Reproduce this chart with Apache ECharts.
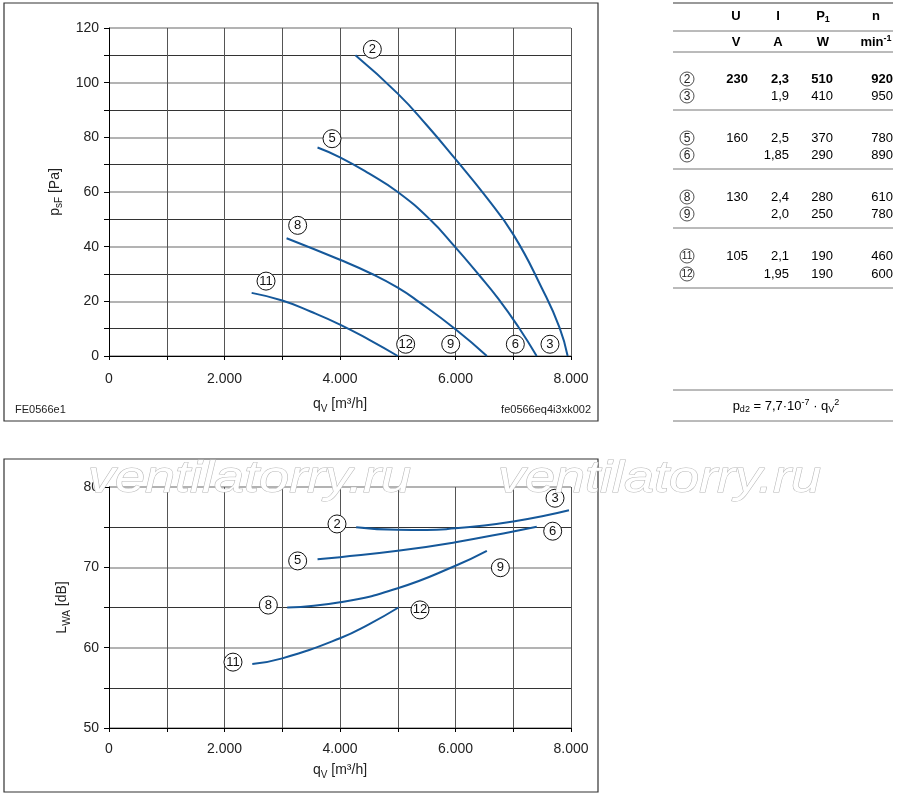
<!DOCTYPE html>
<html>
<head>
<meta charset="utf-8">
<script src="https://cdn.jsdelivr.net/npm/echarts@6/dist/echarts.min.js"></script>
<style>
html,body{margin:0;padding:0;background:#fff;}
#c{width:900px;height:797px;}
</style>
</head>
<body>
<div id="c"></div>
<script>
// ---------- DATA ----------
// pressure curves (qV [m3/h], psF [Pa])
const qP2 = [4267, 5000, 5500, 6000, 6500, 7000, 7500, 7800, 7942];
const pP2 = [110, 96, 84.5, 72, 59, 44.5, 24.6, 10.5, 0];
const qP5 = [3611, 4000, 4500, 5000, 5555, 5988, 6393, 6740, 7087, 7405];
const pP5 = [76.3, 72.7, 66.8, 60, 50, 40, 30, 21, 10.7, 0];
const qP8 = [3075, 4000, 4555, 5000, 5353, 6000, 6543];
const pP8 = [43.1, 35.2, 30, 25, 20, 9.8, 0];
const qP11 = [2470, 3000, 3500, 4000, 4500, 5000];
const pP11 = [23.1, 20.3, 16.2, 11.5, 6.0, 0];
// sound curves (qV, LWA [dB])
const qL2 = [4279, 5000, 5500, 6000, 6500, 7000, 7500, 7965];
const lL2 = [75.0, 74.67, 74.65, 74.85, 75.2, 75.7, 76.35, 77.1];
const qL5 = [3611, 4000, 5000, 6000, 7000, 7407];
const lL5 = [71.0, 71.26, 72.05, 73.13, 74.46, 75.04];
const qL8 = [3086, 4000, 5000, 6000, 6543];
const lL8 = [65.0, 65.65, 67.4, 70.2, 72.05];
const qL11 = [2481, 3000, 4000, 4500, 5012];
const lL11 = [57.97, 58.67, 61.17, 62.9, 65.0];
// curve marker labels
const markP = ['2','5','8','11','12','9','6','3'];
const markPq = [4560, 3862, 3267, 2719, 5137, 5917, 7036, 7636];
const markPv = [112.2, 79.5, 47.8, 27.4, 4.3, 4.3, 4.3, 4.3];
const markL = ['3','2','6','5','9','8','12','11'];
const markLq = [7723, 3948, 7683, 3267, 6777, 2759, 5385, 2147];
const markLv = [78.6, 75.4, 74.5, 70.8, 69.95, 65.3, 64.7, 58.2];
// axis ticks
const xTicks = [0, 2000, 4000, 6000, 8000];
const xTickLabels = ['0', '2.000', '4.000', '6.000', '8.000'];
// table
const tblHead = ['U', 'I', 'P1', 'n'];
const tblUnit = ['V', 'A', 'W', 'min-1'];
const tblRows = ['2','3','5','6','8','9','11','12'];
const tblU = ['230','','160','','130','','105',''];
const tblI = ['2,3','1,9','2,5','1,85','2,4','2,0','2,1','1,95'];
const tblP = ['510','410','370','290','280','250','190','190'];
const tblN = ['920','950','780','890','610','780','460','600'];

// ---------- CHART ----------
const FONT = '"Liberation Sans", Arial, sans-serif';
const BLUE = '#15589a';
const zip = (a, b) => a.map((v, i) => [v, b[i]]);
const chart = echarts.init(document.getElementById('c'), null, {renderer: 'canvas'});

const richName = {
  m: {fontSize: 14, color: '#222', fontFamily: FONT, lineHeight: 20},
  s: {fontSize: 10, color: '#222', fontFamily: FONT, lineHeight: 10, verticalAlign: 'bottom'},
  u: {fontSize: 10, color: '#222', fontFamily: FONT, lineHeight: 10, verticalAlign: 'top'}
};
const xFmt = v => { const i = xTicks.indexOf(v); return i >= 0 ? xTickLabels[i] : ''; };
const gridLine = {show: true, lineStyle: {color: '#555', width: 1}};

function xAxis(gi, gap, margin) {
  return {
    type: 'value', gridIndex: gi, min: 0, max: 8000, interval: 2000,
    name: '{m|q}{s|V}{m| [m³/h]}', nameLocation: 'middle', nameGap: gap,
    nameTextStyle: {rich: richName},
    axisLine: {show: true, onZero: false, lineStyle: {color: '#000', width: 1}},
    axisTick: {show: true, length: 4, lineStyle: {color: '#000'}},
    minorTick: {show: true, splitNumber: 2, length: 4, lineStyle: {color: '#000'}},
    splitLine: gridLine,
    minorSplitLine: gridLine,
    axisLabel: {formatter: xFmt, fontSize: 14, color: '#222', fontFamily: FONT, margin: margin}
  };
}
function yAxis(gi, min, max, name, gap) {
  return {
    type: 'value', gridIndex: gi, min: min, max: max, interval: 10 * (gi === 0 ? 2 : 1),
    name: name, nameLocation: 'middle', nameGap: gap,
    nameTextStyle: {rich: richName},
    axisLine: {show: true, lineStyle: {color: '#000', width: 1}},
    axisTick: {show: true, length: 5, lineStyle: {color: '#000'}},
    minorTick: {show: true, splitNumber: 2, length: 5, lineStyle: {color: '#000'}},
    splitLine: {show: true, lineStyle: {color: '#9a9a9a', width: 1.5}},
    minorSplitLine: {show: true, lineStyle: {color: '#333', width: 1}},
    axisLabel: {fontSize: 14, color: '#222', fontFamily: FONT, margin: 10}
  };
}
function curve(gi, q, v) {
  return {type: 'line', xAxisIndex: gi, yAxisIndex: gi, data: zip(q, v), smooth: 0.5,
    showSymbol: false, symbol: 'none', lineStyle: {color: BLUE, width: 2}, z: 3, silent: true};
}
function marks(gi, names, q, v) {
  return {type: 'scatter', xAxisIndex: gi, yAxisIndex: gi, symbol: 'circle', symbolSize: 18, z: 5,
    data: names.map((n, i) => ({value: [q[i], v[i]], name: n})),
    itemStyle: {color: '#fff', borderColor: '#111', borderWidth: 1, opacity: 1},
    label: {show: true, position: 'inside', formatter: p => p.name, fontSize: 13, color: '#111', fontFamily: FONT},
    silent: true};
}

// graphic elements
const g = [];
g.push({type: 'rect', shape: {x: 4, y: 3, width: 594, height: 418}, style: {fill: 'none', stroke: '#333', lineWidth: 1.2}});
g.push({type: 'rect', shape: {x: 4, y: 459, width: 594, height: 333}, style: {fill: 'none', stroke: '#333', lineWidth: 1.2}});
g.push({type: 'text', x: 15, y: 410, style: {text: 'FE0566e1', font: '11px ' + FONT, fill: '#222', verticalAlign: 'middle'}});
g.push({type: 'text', x: 591, y: 410, style: {text: 'fe0566eq4i3xk002', font: '11px ' + FONT, fill: '#222', align: 'right', verticalAlign: 'middle'}});

// table lines
[3, 31, 52, 110, 169, 228, 288, 390, 421].forEach((y, i) => {
  g.push({type: 'line', shape: {x1: 673, y1: y, x2: 893, y2: y},
    style: {stroke: i === 0 ? '#999' : '#777', lineWidth: i === 0 ? 2 : 1}});
});
const richT = {
  b: {fontSize: 13, fontWeight: 'bold', fontFamily: FONT, color: '#222', lineHeight: 16},
  bs: {fontSize: 9, fontWeight: 'bold', fontFamily: FONT, color: '#222', lineHeight: 9, verticalAlign: 'bottom'},
  bu: {fontSize: 9, fontWeight: 'bold', fontFamily: FONT, color: '#222', lineHeight: 9, verticalAlign: 'top'},
  r: {fontSize: 13, fontFamily: FONT, color: '#222', lineHeight: 16},
  rs: {fontSize: 9, fontFamily: FONT, color: '#222', lineHeight: 9, verticalAlign: 'bottom'},
  ru: {fontSize: 9, fontFamily: FONT, color: '#222', lineHeight: 9, verticalAlign: 'top'}
};
const headX = [736, 778, 823, 876];
const fmtHead = s => s === 'P1' ? '{b|P}{bs|1}' : (s === 'min-1' ? '{b|min}{bu|-1}' : '{b|' + s + '}');
tblHead.forEach((h, i) => g.push({type: 'text', x: headX[i], y: 16, style: {text: fmtHead(h), rich: richT, align: 'center', verticalAlign: 'middle'}}));
tblUnit.forEach((h, i) => g.push({type: 'text', x: headX[i], y: 42, style: {text: fmtHead(h), rich: richT, align: 'center', verticalAlign: 'middle'}}));
const rowY = [79, 96, 138, 155, 197, 214, 256, 274];
const colX = [748, 789, 833, 893];
tblRows.forEach((r, i) => {
  const y = rowY[i];
  g.push({type: 'circle', shape: {cx: 687, cy: y, r: 7}, style: {fill: '#fff', stroke: '#222', lineWidth: 0.8}});
  g.push({type: 'text', x: 687, y: y + 0.5, style: {text: r, font: (r.length > 1 ? '10px ' : '12px ') + FONT, fill: '#222', align: 'center', verticalAlign: 'middle'}});
  [tblU[i], tblI[i], tblP[i], tblN[i]].forEach((t, j) => {
    if (!t) return;
    g.push({type: 'text', x: colX[j], y: y, style: {text: (i === 0 ? '{b|' : '{r|') + t + '}', rich: richT, align: 'right', verticalAlign: 'middle'}});
  });
});
g.push({type: 'text', x: 786, y: 406, style: {text: '{r|p}{rs|d2}{r| = 7,7·10}{ru|-7}{r| · q}{rs|V}{ru|2}', rich: richT, align: 'center', verticalAlign: 'middle'}});

// watermark
[88, 498].forEach(x => g.push({type: 'text', x: x, y: 457, scaleX: 1.2, z: 50,
  style: {text: 'ventilatorry.ru', font: 'italic 45px ' + FONT, fill: '#fff', stroke: '#b8b8b8', lineWidth: 1, verticalAlign: 'top'}}));

chart.setOption({
  animation: false,
  backgroundColor: '#fff',
  grid: [
    {left: 109, top: 28, width: 462, height: 328, containLabel: false},
    {left: 109, top: 487, width: 462, height: 241, containLabel: false}
  ],
  xAxis: [xAxis(0, 38, 16), xAxis(1, 32, 14)],
  yAxis: [
    yAxis(0, 0, 120, '{m|p}{s|sF}{m| [Pa]}', 35),
    yAxis(1, 50, 80, '{m|L}{s|WA}{m| [dB]}', 33)
  ],
  series: [
    curve(0, qP2, pP2), curve(0, qP5, pP5), curve(0, qP8, pP8), curve(0, qP11, pP11),
    curve(1, qL2, lL2), curve(1, qL5, lL5), curve(1, qL8, lL8), curve(1, qL11, lL11),
    marks(0, markP, markPq, markPv), marks(1, markL, markLq, markLv)
  ],
  graphic: g
});
</script>
</body>
</html>
